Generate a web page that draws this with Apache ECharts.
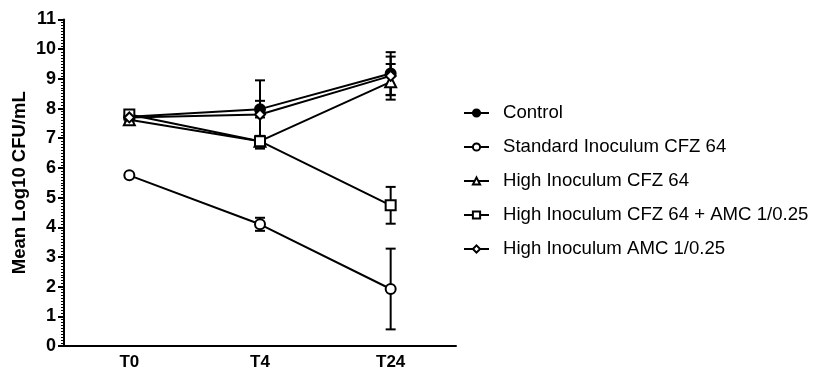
<!DOCTYPE html>
<html>
<head>
<meta charset="utf-8">
<script src="https://cdn.jsdelivr.net/npm/echarts@6/dist/echarts.min.js"></script>
<style>html,body{margin:0;padding:0;background:#fff}#c{width:816px;height:371px}</style>
</head>
<body>
<div id="c"></div>
<script>
var categories = ['T0', 'T4', 'T24'];
var yTicks = [0, 11, 1];

var controlMean = [7.72, 7.98, 9.18];
var controlErr = [0.05, 0.28, 0.72];
var standardMean = [5.75, 4.10, 1.92];
var standardErr = [0.05, 0.22, 1.36];
var highCfzMean = [7.62, 6.90, 8.90];
var highCfzErr = [0.05, 0.15, 0.60];
var highCfzAmcMean = [7.80, 6.90, 4.74];
var highCfzAmcErr = [0.05, 0.18, 0.62];
var highAmcMean = [7.70, 7.80, 9.10];
var highAmcErr = [0.05, 1.15, 0.65];

var seriesDefs = [
  {name: 'Control', mean: controlMean, err: controlErr, symbol: 'circle', fill: '#000'},
  {name: 'Standard Inoculum CFZ 64', mean: standardMean, err: standardErr, symbol: 'circle', fill: '#fff'},
  {name: 'High Inoculum CFZ 64', mean: highCfzMean, err: highCfzErr, symbol: 'triangle', fill: '#fff'},
  {name: 'High Inoculum CFZ 64 + AMC 1/0.25', mean: highCfzAmcMean, err: highCfzAmcErr, symbol: 'rect', fill: '#fff'},
  {name: 'High Inoculum AMC 1/0.25', mean: highAmcMean, err: highAmcErr, symbol: 'diamond', fill: '#fff'}
];

var series = [];
seriesDefs.forEach(function (d) {
  series.push({
    type: 'custom',
    name: d.name + ' err',
    silent: true,
    z: 1,
    data: d.mean.map(function (m, i) { return [i, m - d.err[i], m + d.err[i]]; }),
    renderItem: function (params, api) {
      var x = api.value(0);
      var lo = api.coord([x, api.value(1)]);
      var hi = api.coord([x, api.value(2)]);
      var w = 5;
      var st = {stroke: '#000', lineWidth: 2};
      return {
        type: 'group',
        children: [
          {type: 'line', shape: {x1: lo[0], y1: lo[1], x2: hi[0], y2: hi[1]}, style: st},
          {type: 'line', shape: {x1: hi[0] - w, y1: hi[1], x2: hi[0] + w, y2: hi[1]}, style: st},
          {type: 'line', shape: {x1: lo[0] - w, y1: lo[1], x2: lo[0] + w, y2: lo[1]}, style: st}
        ]
      };
    }
  });
  series.push({
    type: 'line',
    name: d.name,
    z: 3,
    data: d.mean,
    symbol: d.symbol,
    symbolSize: d.symbol === 'triangle' ? 11 : (d.symbol === 'diamond' ? 10 : 10),
    showAllSymbol: true,
    lineStyle: {color: '#000', width: 2},
    itemStyle: {color: d.fill, borderColor: '#000', borderWidth: 2},
    emphasis: {disabled: true}
  });
});

var option = {
  animation: false,
  backgroundColor: '#fff',
  grid: {left: 64, right: 360, top: 19.5, bottom: 24, containLabel: false},
  legend: {
    orient: 'vertical',
    left: 463,
    top: 103,
    padding: 0,
    itemWidth: 25,
    itemHeight: 9,
    itemGap: 14,
    data: seriesDefs.map(function (d) { return d.name; }),
    textStyle: {fontFamily: 'Liberation Sans', fontSize: 18.6, color: '#000', lineHeight: 20, padding: [0, 0, 0, 9]}
  },
  xAxis: {
    type: 'category',
    data: categories,
    boundaryGap: true,
    axisLine: {lineStyle: {color: '#000', width: 2}},
    axisTick: {alignWithLabel: true, length: 5, lineStyle: {width: 2, color: '#000'}},
    axisLabel: {fontFamily: 'Liberation Sans', fontWeight: 'bold', fontSize: 17, color: '#000', margin: 8},
    splitLine: {show: false}
  },
  yAxis: {
    type: 'value',
    min: yTicks[0],
    max: yTicks[1],
    interval: yTicks[2],
    name: 'Mean Log10 CFU/mL',
    nameLocation: 'middle',
    nameGap: 35,
    nameTextStyle: {fontFamily: 'Liberation Sans', fontWeight: 'bold', fontSize: 18.5, color: '#000'},
    axisLine: {show: true, lineStyle: {color: '#000', width: 2}},
    axisTick: {show: true, length: 6, lineStyle: {width: 2, color: '#000'}},
    minorTick: {show: true, splitNumber: 10, length: 3, lineStyle: {color: '#000', width: 1}},
    axisLabel: {fontFamily: 'Liberation Sans', fontWeight: 'bold', fontSize: 18, color: '#000', margin: 8},
    splitLine: {show: false},
    minorSplitLine: {show: false}
  },
  series: series
};

var chart = echarts.init(document.getElementById('c'), null, {renderer: 'canvas'});
chart.setOption(option);
</script>
</body>
</html>
